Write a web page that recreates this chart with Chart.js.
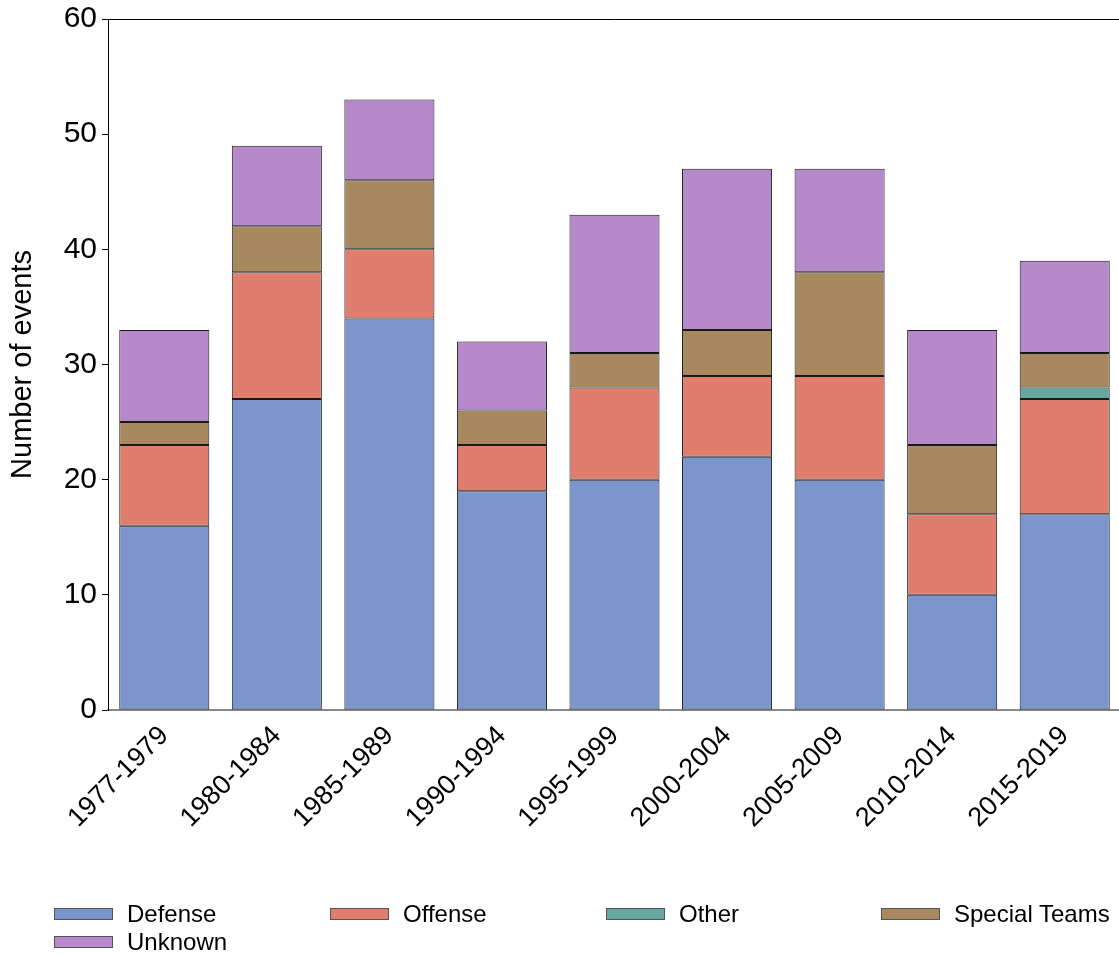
<!DOCTYPE html>
<html>
<head>
<meta charset="utf-8">
<script src="https://cdn.jsdelivr.net/npm/chart.js@4/dist/chart.umd.min.js"></script>
<style>
  body { margin: 0; overflow: hidden; background: #fff; font-family: "Liberation Sans", Arial, sans-serif; }
  #wrap { position: relative; width: 1119px; height: 954px; overflow: hidden; }
  #legend { position: absolute; left: 0; top: 0; width: 1119px; height: 954px; pointer-events: none; }
  .item { position: absolute; display: flex; align-items: center; font-size: 24px; color: #000; white-space: nowrap; }
  .box { width: 57px; height: 10px; border: 1px solid #555; margin-right: 14px; }
</style>
</head>
<body>
<div id="wrap">
  <canvas id="chart" width="1121" height="954"></canvas>
  <div id="legend"></div>
</div>
<script>
// data
const periods = ['1977-1979', '1980-1984', '1985-1989', '1990-1994', '1995-1999', '2000-2004', '2005-2009', '2010-2014', '2015-2019'];
const defense = [16, 27, 34, 19, 20, 22, 20, 10, 17];
const offense = [7, 11, 6, 4, 8, 7, 9, 7, 10];
const other = [0, 0, 0, 0, 0, 0, 0, 0, 1];
const specialTeams = [2, 4, 6, 3, 3, 4, 9, 6, 3];
const unknown = [8, 7, 7, 6, 12, 14, 9, 10, 8];
const yTicks = [0, 10, 20, 30, 40, 50, 60];

const series = [
    { label: 'Defense', data: defense, color: '#7b96cc' },
    { label: 'Offense', data: offense, color: '#e07e6e' },
    { label: 'Other', data: other, color: '#66a8a0' },
    { label: 'Special Teams', data: specialTeams, color: '#a8885e' },
    { label: 'Unknown', data: unknown, color: '#b689ca' },
];

// line across the top of the plot area
const topLine = {
    id: 'topLine',
    afterDraw(chart) {
        const { ctx, chartArea } = chart;
        ctx.save();
        ctx.strokeStyle = '#000';
        ctx.lineWidth = 1;
        ctx.beginPath();
        ctx.moveTo(chartArea.left, Math.round(chartArea.top) + 0.5);
        ctx.lineTo(chartArea.right, Math.round(chartArea.top) + 0.5);
        ctx.stroke();
        ctx.restore();
    }
};

new Chart(document.getElementById('chart'), {
    type: 'bar',
    data: {
        labels: periods,
        datasets: series.map(s => ({
            label: s.label,
            data: s.data.map(v => v === 0 ? null : v),
            backgroundColor: s.color,
            borderColor: '#1a1a1a',
            borderWidth: 1,
            borderSkipped: false,
            barPercentage: 0.8,
            categoryPercentage: 1.0,
        }))
    },
    options: {
        responsive: false,
        animation: false,
        layout: { padding: { top: 19, right: 0, left: 0, bottom: 0 } },
        plugins: { legend: { display: false }, tooltip: { enabled: false } },
        scales: {
            x: {
                stacked: true,
                grid: { display: false },
                border: { color: '#888', width: 2 },
                ticks: {
                    color: '#000',
                    font: { family: 'Liberation Sans', size: 27 },
                    maxRotation: 45,
                    minRotation: 45,
                    padding: 2,
                },
                afterFit(scale) {
                    scale.height = 244;
                    scale.paddingLeft = 0;
                    scale.paddingRight = 0;
                }
            },
            y: {
                stacked: true,
                min: 0,
                max: 60,
                afterBuildTicks(scale) { scale.ticks = yTicks.map(v => ({ value: v })); },
                grid: { display: true, drawOnChartArea: false, tickLength: 6, color: '#000' },
                border: { color: '#000', width: 1 },
                ticks: {
                    color: '#000',
                    font: { family: 'Liberation Sans', size: 30 },
                    padding: 5,
                },
                title: {
                    display: true,
                    text: 'Number of events',
                    color: '#000',
                    font: { family: 'Liberation Sans', size: 29 },
                    padding: { top: 6, bottom: 0 },
                },
                afterFit(scale) {
                    scale.width = 108;
                    scale.paddingTop = 0;
                    scale.paddingBottom = 0;
                }
            }
        }
    },
    plugins: [topLine]
});

// legend, laid out like the reference
const legendSpots = [[54, 914], [330, 914], [606, 914], [881, 914], [54, 942]];
const legend = document.getElementById('legend');
series.forEach((s, i) => {
    const el = document.createElement('div');
    el.className = 'item';
    el.style.left = legendSpots[i][0] + 'px';
    el.style.top = (legendSpots[i][1] - 14) + 'px';
    el.style.height = '28px';
    el.innerHTML = '<span class="box" style="background:' + s.color + '"></span><span>' + s.label + '</span>';
    legend.appendChild(el);
});
</script>
</body>
</html>
